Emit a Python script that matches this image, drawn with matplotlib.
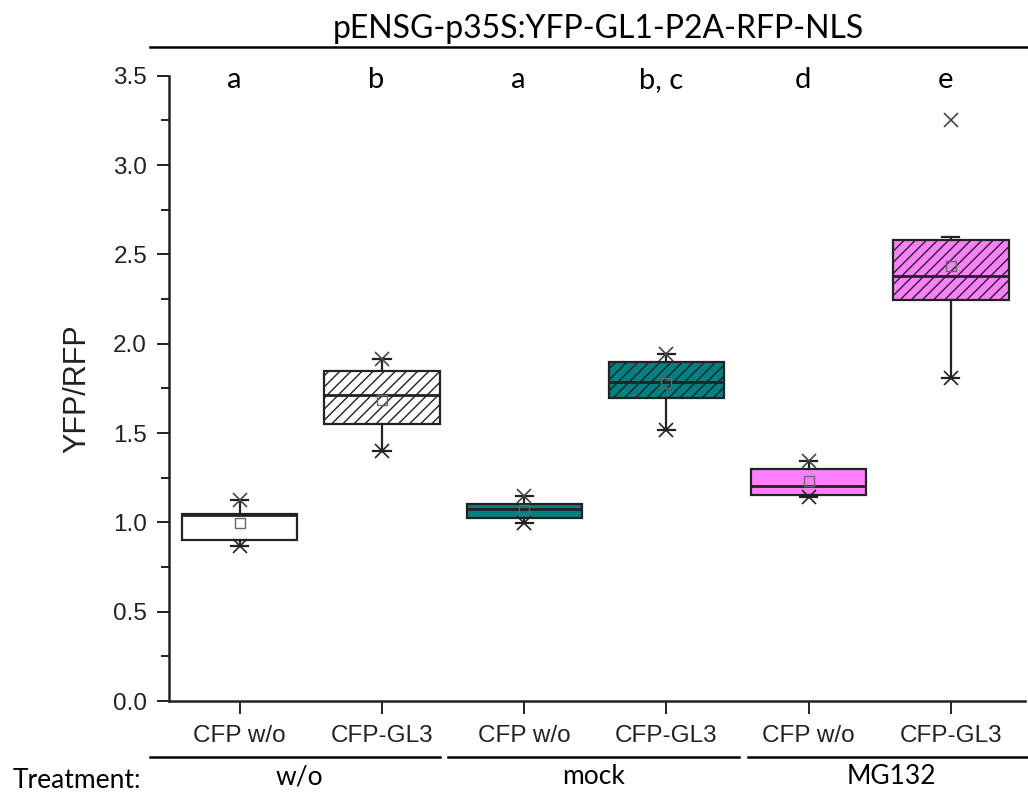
import matplotlib
matplotlib.use("Agg")
import matplotlib.pyplot as plt
import matplotlib.transforms as mtransforms

plt.rcParams['font.family'] = ['Liberation Sans', 'DejaVu Sans']
plt.rcParams['hatch.linewidth'] = 1.0

# groups and treatments
cats = ['CFP w/o', 'CFP-GL3', 'CFP w/o', 'CFP-GL3', 'CFP w/o', 'CFP-GL3']
treatments = ['w/o', 'mock', 'MG132']
letters = ['a', 'b', 'a', 'b, c', 'd', 'e']

# box statistics of YFP/RFP
q1 = [0.901, 1.550, 1.024, 1.696, 1.153, 2.244]
med = [1.041, 1.712, 1.074, 1.785, 1.203, 2.378]
q3 = [1.046, 1.847, 1.102, 1.897, 1.298, 2.580]
whislo = [0.867, 1.399, 0.996, 1.517, 1.142, 1.807]
whishi = [1.125, 1.914, 1.147, 1.942, 1.343, 2.597]
means = [0.998, 1.684, 1.069, 1.780, 1.231, 2.434]
vmin = [0.867, 1.399, 0.996, 1.517, 1.142, 1.807]
vmax = [1.125, 1.914, 1.147, 1.942, 1.343, 3.251]

fills = ['white', 'white', '#008080', '#008080', '#ff80ff', '#ff80ff']
hatches = [None, '///', None, '///', None, '///']

fig = plt.figure(figsize=(10.28, 7.94), dpi=100)
ax = fig.add_axes([0.1647, 0.1171, 0.8323, 0.7876])

pos = list(range(1, 7))
stats = []
for i in range(6):
    stats.append(dict(q1=q1[i], med=med[i], q3=q3[i], whislo=whislo[i],
                      whishi=whishi[i], mean=means[i], fliers=[]))

bp = ax.bxp(stats, positions=pos, widths=0.81, patch_artist=True,
            showmeans=True, showfliers=False, capwidths=0.12,
            boxprops=dict(linewidth=1.6, edgecolor='#222222'),
            medianprops=dict(color='#222222', linewidth=2.0),
            whiskerprops=dict(color='#222222', linewidth=1.6),
            capprops=dict(color='#222222', linewidth=1.6),
            meanprops=dict(marker='s', markerfacecolor='none',
                           markeredgecolor='#666666', markersize=7,
                           markeredgewidth=1.0))
for i, b in enumerate(bp['boxes']):
    b.set_facecolor(fills[i])
    if hatches[i]:
        b.set_hatch(hatches[i])

# min / max markers
ax.plot(pos, vmin, linestyle='none', marker='x', color='#222222',
        markersize=10, markeredgewidth=1.2)
ax.plot(pos, vmax, linestyle='none', marker='x', color='#444444',
        markersize=10, markeredgewidth=1.2)

ax.set_xlim(0.505, 6.52)
ax.set_ylim(0, 3.5)
ax.set_yticks([0, 0.5, 1.0, 1.5, 2.0, 2.5, 3.0, 3.5])
ax.set_yticks([0.25, 0.75, 1.25, 1.75, 2.25, 2.75, 3.25], minor=True)
ax.set_yticklabels(['0.0', '0.5', '1.0', '1.5', '2.0', '2.5', '3.0', '3.5'])
ax.set_xticks(pos)
ax.set_xticklabels(cats)
ax.tick_params(axis='both', which='major', direction='out', length=9,
               width=1.4, labelsize=17.5, color='#222222', labelcolor='#222222')
ax.tick_params(axis='y', which='major', pad=7)
ax.tick_params(axis='x', which='major', pad=8)
ax.tick_params(axis='y', which='minor', direction='out', length=6, width=1.4,
               color='#222222')
ax.spines['top'].set_visible(False)
ax.spines['right'].set_visible(False)
ax.spines['left'].set_linewidth(1.8)
ax.spines['bottom'].set_linewidth(1.8)
ax.spines['left'].set_color('#222222')
ax.spines['bottom'].set_color('#222222')
ax.set_ylabel('YFP/RFP', fontsize=22, color='#222222', labelpad=15)

cal = ['Lato', 'DejaVu Sans']

# significance letters
for i in range(6):
    ax.text(pos[i] - 0.04, 3.43, letters[i], ha='center', va='baseline',
            fontsize=21, family=cal, color='black')

# title and line above the plot
trans = mtransforms.blended_transform_factory(ax.transData, fig.transFigure)
ax.plot([0.37, 6.6], [1 - 47 / 794, 1 - 47 / 794], transform=trans,
        color='black', linewidth=1.8, clip_on=False)
fig.text(598 / 1028, 1 - 38 / 794, 'pENSG-p35S:YFP-GL1-P2A-RFP-NLS',
         ha='center', va='baseline', fontsize=23, family=cal)

# treatment lines and labels
grp_lines = [(0.368, 2.405), (2.462, 4.507), (4.570, 6.6)]
grp_x = [1.42, 3.49, 5.58]
for k in range(3):
    ax.plot(grp_lines[k], [1 - 757 / 794] * 2, transform=trans,
            color='black', linewidth=1.8, clip_on=False)
    ax.text(grp_x[k], 1 - 777 / 794, treatments[k], transform=trans,
            ha='center', va='center', fontsize=19, family=cal)
fig.text(13 / 1028, 1 - 788 / 794, 'Treatment:', ha='left', va='baseline',
         fontsize=19, family=cal)

fig.savefig('out.png', dpi=100)
